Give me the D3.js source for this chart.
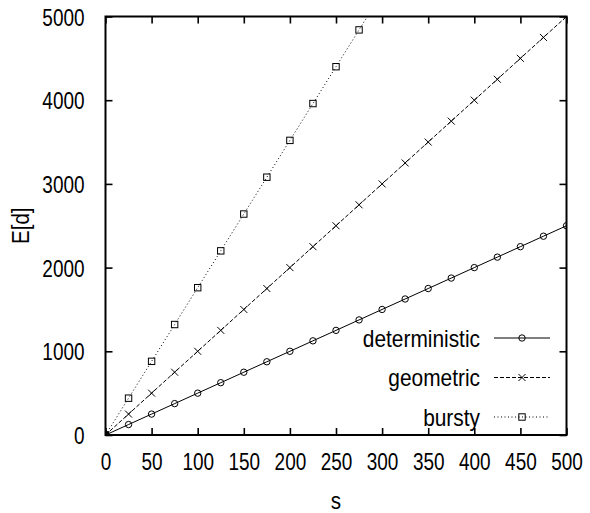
<!DOCTYPE html>
<html>
<head>
<meta charset="utf-8">
<script src="https://cdn.jsdelivr.net/npm/d3@7"></script>
<style>
  body { margin: 0; background: #fff; }
  svg text { font-family: "Liberation Sans", Arial, Helvetica, sans-serif; fill: #000; }
</style>
</head>
<body>
<div id="chart"></div>
<script>
// data
const sValues = [0, 25, 50, 75, 100, 125, 150, 175, 200, 225, 250, 275, 300, 325, 350, 375, 400, 425, 450, 475, 500];
const deterministic = [0, 125, 250, 375, 500, 625, 750, 875, 1000, 1125, 1250, 1375, 1500, 1625, 1750, 1875, 2000, 2125, 2250, 2375, 2500];
const geometric = [0, 250, 500, 750, 1000, 1250, 1500, 1750, 2000, 2250, 2500, 2750, 3000, 3250, 3500, 3750, 4000, 4250, 4500, 4750, 5000];
const burstyS = [0, 25, 50, 75, 100, 125, 150, 175, 200, 225, 250, 275, 300];
const bursty = [0, 440, 880, 1320, 1760, 2200, 2640, 3080, 3520, 3960, 4400, 4840, 5280];
const xTicks = [0, 50, 100, 150, 200, 250, 300, 350, 400, 450, 500];
const yTicks = [0, 1000, 2000, 3000, 4000, 5000];
const seriesNames = ["deterministic", "geometric", "bursty"];

const width = 590, height = 513;
const margin = { top: 16.5, right: 23.5, bottom: 78, left: 105.5 };

const svg = d3.select("#chart").append("svg")
  .attr("width", width)
  .attr("height", height);

const x = d3.scaleLinear().domain([0, 500]).range([margin.left, width - margin.right]);
const y = d3.scaleLinear().domain([0, 5000]).range([height - margin.bottom, margin.top]);

// squeeze text horizontally (the reference font is narrower than ours)
function squeeze(sel, k) {
  sel.each(function () {
    const t = d3.select(this);
    const x0 = +(t.attr("x") || 0);
    t.attr("x", x0 / k).attr("transform", `scale(${k},1)`);
  });
}

svg.append("clipPath").attr("id", "clip")
  .append("rect")
  .attr("x", x(0)).attr("y", y(5000))
  .attr("width", x(500) - x(0)).attr("height", y(0) - y(5000));

// --- axes (ticks inward, mirrored) ---
const tickLen = 7;
const fmt = d3.format("d");
const bottomAxis = d3.axisBottom(x).tickValues(xTicks).tickSize(-tickLen).tickPadding(tickLen + 11).tickFormat(fmt);
const topAxis = d3.axisTop(x).tickValues(xTicks).tickSize(-tickLen).tickFormat("");
const leftAxis = d3.axisLeft(y).tickValues(yTicks).tickSize(-tickLen).tickPadding(tickLen + 14).tickFormat(fmt);
const rightAxis = d3.axisRight(y).tickValues(yTicks).tickSize(-tickLen).tickFormat("");

function styleAxis(g) {
  g.select(".domain").remove();
  g.selectAll(".tick line").attr("stroke", "#000").attr("stroke-width", 1.6);
  g.selectAll(".tick text").style("font-size", "24px");
}

svg.append("g").attr("transform", `translate(0,${y(0)})`).call(bottomAxis).call(styleAxis)
  .selectAll(".tick text").attr("dy", "0.71em").call(squeeze, 0.79);
svg.append("g").attr("transform", `translate(0,${y(5000)})`).call(topAxis).call(styleAxis);
svg.append("g").attr("transform", `translate(${x(0)},0)`).call(leftAxis).call(styleAxis)
  .selectAll(".tick text").attr("dy", "0.36em").call(squeeze, 0.79);
svg.append("g").attr("transform", `translate(${x(500)},0)`).call(rightAxis).call(styleAxis);

// frame
svg.append("rect")
  .attr("x", x(0)).attr("y", y(5000))
  .attr("width", x(500) - x(0)).attr("height", y(0) - y(5000))
  .attr("fill", "none").attr("stroke", "#000").attr("stroke-width", 2);

// axis titles
svg.append("text")
  .attr("x", (x(0) + x(500)) / 2).attr("y", 509)
  .attr("text-anchor", "middle")
  .style("font-size", "24px")
  .text("s")
  .call(squeeze, 0.86);

svg.append("text")
  .attr("transform", `translate(29,${(y(0) + y(5000)) / 2}) rotate(-90) scale(0.86,1)`)
  .attr("text-anchor", "middle")
  .style("font-size", "24px")
  .text("E[d]");

// --- series ---
const series = [
  { name: seriesNames[0], xs: sValues, ys: deterministic, dash: null, marker: "circle" },
  { name: seriesNames[1], xs: sValues, ys: geometric, dash: "4,2", marker: "cross" },
  { name: seriesNames[2], xs: burstyS, ys: bursty, dash: "1,2.5", marker: "square" }
];

function drawMarker(g, type, cx, cy) {
  if (type === "circle") {
    g.append("circle").attr("cx", cx).attr("cy", cy).attr("r", 3.2)
      .attr("fill", "none").attr("stroke", "#000").attr("stroke-width", 1);
  } else if (type === "cross") {
    const r = 3.5;
    g.append("path")
      .attr("d", `M${cx - r},${cy - r}L${cx + r},${cy + r}M${cx - r},${cy + r}L${cx + r},${cy - r}`)
      .attr("stroke", "#000").attr("stroke-width", 1);
  } else {
    const r = 3.2;
    g.append("rect").attr("x", cx - r).attr("y", cy - r).attr("width", 2 * r).attr("height", 2 * r)
      .attr("fill", "none").attr("stroke", "#000").attr("stroke-width", 1);
  }
}

const plot = svg.append("g").attr("clip-path", "url(#clip)");
const line = d3.line().x((d) => x(d[0])).y((d) => y(d[1]));

series.forEach((s) => {
  const pts = s.xs.map((v, i) => [v, s.ys[i]]);
  plot.append("path")
    .attr("d", line(pts))
    .attr("fill", "none")
    .attr("stroke", "#000")
    .attr("stroke-width", 1)
    .attr("stroke-dasharray", s.dash);
  const mg = plot.append("g");
  pts.forEach((p) => drawMarker(mg, s.marker, x(p[0]), y(p[1])));
});

// --- legend ---
const legendRows = [338, 377.5, 417];
const legendTextX = 480, sampleX1 = 494, sampleX2 = 550;
series.forEach((s, i) => {
  const ly = legendRows[i];
  const g = svg.append("g");
  g.append("text")
    .attr("x", legendTextX).attr("y", ly).attr("dy", "0.36em")
    .attr("text-anchor", "end")
    .style("font-size", "24px")
    .text(s.name)
    .call(squeeze, 0.87);
  g.append("line")
    .attr("x1", sampleX1).attr("x2", sampleX2)
    .attr("y1", ly).attr("y2", ly)
    .attr("stroke", "#000").attr("stroke-width", 1)
    .attr("stroke-dasharray", s.dash);
  drawMarker(g, s.marker, (sampleX1 + sampleX2) / 2, ly);
});
</script>
</body>
</html>
